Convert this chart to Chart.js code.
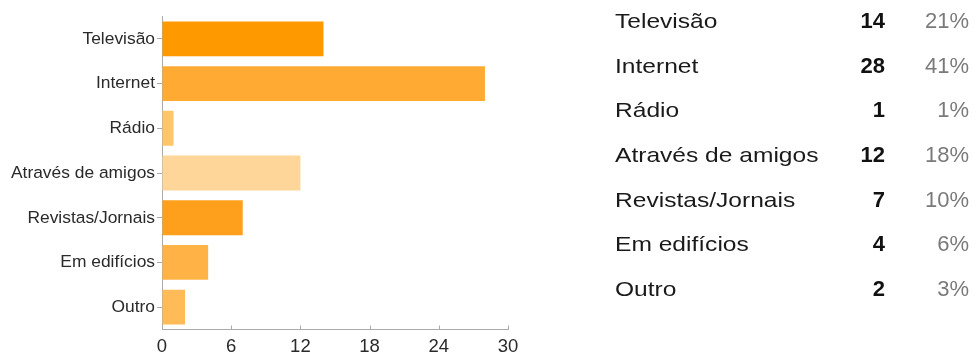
<!DOCTYPE html>
<html>
<head>
<meta charset="utf-8">
<script src="https://cdn.jsdelivr.net/npm/chart.js@4/dist/chart.umd.min.js"></script>
<style>
  html, body { margin: 0; padding: 0; background: #fff; }
  body { width: 975px; height: 353px; position: relative; overflow: hidden;
         font-family: "Liberation Sans", Arial, sans-serif; }
  #chartBox { position: absolute; left: 0; top: 0; width: 530px; height: 353px; }
  #table { position: absolute; left: 0; top: 0; width: 975px; height: 353px; }
  .row { position: absolute; left: 0; width: 975px; height: 30px; line-height: 30px; font-size: 21px; }
  .lbl { position: absolute; left: 615px; color: #1a1a1a; white-space: nowrap;
         transform: scaleX(1.17); transform-origin: left center; }
  .num { position: absolute; right: 90px; font-weight: bold; color: #111; font-size: 22px; }
  .pct { position: absolute; right: 6px; color: #7a7a7a; font-size: 22px; }
</style>
</head>
<body>
<div id="chartBox"><canvas id="c"></canvas></div>
<div id="table"></div>
<script>
// Where respondents heard about it
const categories = ["Televisão", "Internet", "Rádio", "Através de amigos", "Revistas/Jornais", "Em edifícios", "Outro"];
const counts = [14, 28, 1, 12, 7, 4, 2];
const barColors = ["#ff9900", "#ffaa33", "#ffc56b", "#ffd699", "#ffa01c", "#ffb347", "#ffbb57"];
const xTicks = [0, 6, 12, 18, 24, 30];

const total = counts.reduce((a, b) => a + b, 0);
const percents = counts.map(v => Math.round(v / total * 100) + "%");

const axisGray = "#aaaaaa";
const textColor = "#2a2a2a";

// Short value-axis ticks pointing up into the plot from the baseline
const innerTicks = {
  id: "innerTicks",
  afterDatasetsDraw(chart) {
    const { ctx, chartArea } = chart;
    const x = chart.scales.x;
    ctx.save();
    ctx.strokeStyle = axisGray;
    ctx.lineWidth = 1;
    xTicks.forEach(v => {
      const px = Math.round(x.getPixelForValue(v)) + 0.5;
      ctx.beginPath();
      ctx.moveTo(px, chartArea.bottom);
      ctx.lineTo(px, chartArea.bottom - 4);
      ctx.stroke();
    });
    ctx.restore();
  }
};

new Chart(document.getElementById("c"), {
  type: "bar",
  data: {
    labels: categories,
    datasets: [{
      data: counts,
      backgroundColor: barColors,
      borderWidth: 0,
      barPercentage: 0.78,
      categoryPercentage: 1.0
    }]
  },
  options: {
    indexAxis: "y",
    responsive: true,
    maintainAspectRatio: false,
    animation: false,
    layout: { padding: { top: 16.5, right: 22, left: 0, bottom: 0 } },
    plugins: { legend: { display: false }, tooltip: { enabled: false } },
    scales: {
      x: {
        min: 0, max: 30,
        afterBuildTicks: s => { s.ticks = xTicks.map(v => ({ value: v })); },
        afterFit: s => { s.height = 23.5; },
        ticks: { color: textColor, font: { size: 18.5, family: "Liberation Sans" }, padding: 6, maxRotation: 0 },
        grid: { drawOnChartArea: false, drawTicks: false, color: axisGray },
        border: { color: axisGray, width: 1 }
      },
      y: {
        afterFit: s => { s.width = 162; },
        ticks: { color: textColor, font: { size: 17.4, family: "Liberation Sans" }, padding: 2 },
        grid: { drawOnChartArea: false, drawTicks: true, tickLength: 5, offset: false, color: axisGray },
        border: { color: axisGray, width: 1 }
      }
    }
  },
  plugins: [innerTicks]
});

// Summary table: label, count, share
const table = document.getElementById("table");
categories.forEach((name, i) => {
  const row = document.createElement("div");
  row.className = "row";
  row.style.top = (20.8 + i * 44.7 - 15) + "px";
  row.innerHTML = '<span class="lbl"></span><span class="num"></span><span class="pct"></span>';
  row.querySelector(".lbl").textContent = name;
  row.querySelector(".num").textContent = counts[i];
  row.querySelector(".pct").textContent = percents[i];
  table.appendChild(row);
});
</script>
</body>
</html>
